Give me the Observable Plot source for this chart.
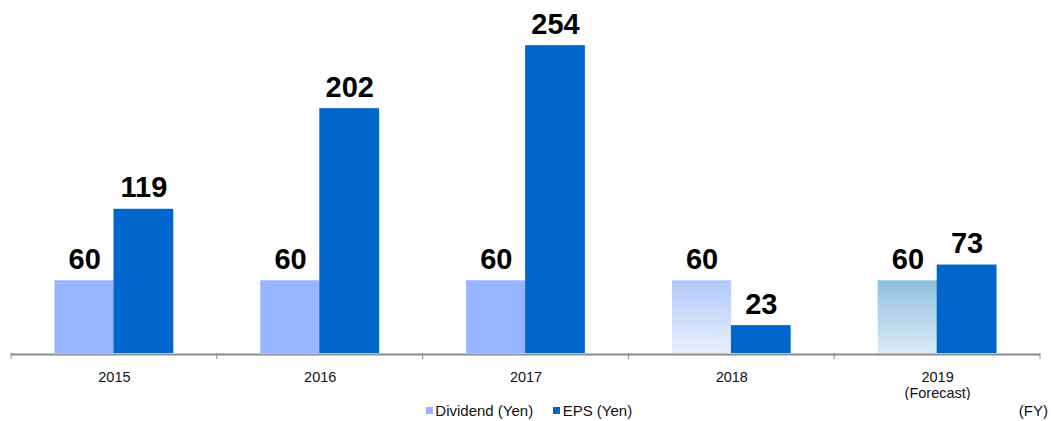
<!DOCTYPE html>
<html>
<head>
<meta charset="utf-8">
<script src="https://cdn.jsdelivr.net/npm/d3@7"></script>
<script src="https://cdn.jsdelivr.net/npm/@observablehq/plot@0.6"></script>
<style>
  body { margin: 0; background: #fff; font-family: "Liberation Sans", Arial, sans-serif; }
  #chart { position: relative; width: 1051px; }
  .legend { position: relative; height: 21px; display: flex; justify-content: center; align-items: center; font-size: 15px; color: #111; padding-left: 7px; }
  .item { display: flex; align-items: center; margin: 0 10px; }
  .sw { width: 7px; height: 7px; margin-right: 2.5px; }
  .fy { position: absolute; right: 3px; top: 2px; font-size: 15px; color: #111; }
</style>
</head>
<body>
<div id="chart"></div>
<script>
// ---- data ----
const years = ["2015", "2016", "2017", "2018", "2019"];
const yearLabels = ["2015", "2016", "2017", "2018", "2019\n(Forecast)"];
const dividend = [60, 60, 60, 60, 60];
const eps = [119, 202, 254, 23, 73];
const seriesNames = ["Dividend (Yen)", "EPS (Yen)"];

// ---- styles ----
const divColor = "#96B4FF";
const epsColor = "#0066CC";
const axisGray = "#8c8c8c";
const gradients = { "2018": ["#B2CAFA", "#E9F0FD"], "2019": ["#8EC0E1", "#DCEBF4"] };

const divRows = years.map((y, i) => ({ year: y, value: dividend[i] }));
const epsRows = years.map((y, i) => ({ year: y, value: eps[i] }));
const divFill = d => gradients[d.year] ? `url(#grad${d.year})` : divColor;

function decorations(index, scales) {
  const ns = "http://www.w3.org/2000/svg";
  const g = document.createElementNS(ns, "g");
  const defs = document.createElementNS(ns, "defs");
  for (const [k, [c0, c1]] of Object.entries(gradients)) {
    const lg = document.createElementNS(ns, "linearGradient");
    lg.setAttribute("id", "grad" + k);
    lg.setAttribute("x1", "0"); lg.setAttribute("y1", "0");
    lg.setAttribute("x2", "0"); lg.setAttribute("y2", "1");
    [[0, c0], [1, c1]].forEach(([o, c]) => {
      const s = document.createElementNS(ns, "stop");
      s.setAttribute("offset", o);
      s.setAttribute("stop-color", c);
      lg.appendChild(s);
    });
    defs.appendChild(lg);
  }
  g.appendChild(defs);
  const y0 = scales.y(0);
  const bw = scales.x.bandwidth();
  const edges = years.map(y => scales.x(y)).concat([scales.x(years[years.length - 1]) + bw]);
  for (const e of edges) {
    const l = document.createElementNS(ns, "line");
    l.setAttribute("x1", e); l.setAttribute("x2", e);
    l.setAttribute("y1", y0); l.setAttribute("y2", y0 + 6);
    l.setAttribute("stroke", axisGray);
    l.setAttribute("stroke-width", 1);
    g.appendChild(l);
  }
  return g;
}

const chart = Plot.plot({
  width: 1051,
  height: 400,
  marginTop: 10,
  marginBottom: 47,
  marginLeft: 11,
  marginRight: 11,
  style: { fontFamily: "'Liberation Sans', Arial, sans-serif", fontSize: "14.5px", background: "#fff" },
  x: { domain: years, padding: 0, round: false, label: null },
  y: { domain: [0, 283], axis: null },
  color: { type: "identity" },
  marks: [
    decorations,
    Plot.ruleY([0], { stroke: axisGray, strokeWidth: 2, dy: 1 }),
    Plot.barY(divRows, { x: "year", y: "value", fill: divFill, insetLeft: 43.5, insetRight: 103 }),
    Plot.barY(epsRows, { x: "year", y: "value", fill: epsColor, insetLeft: 102.5, insetRight: 43.5 }),
    Plot.text(divRows, { x: "year", y: "value", text: d => String(d.value), dx: -29.7, dy: -12, lineAnchor: "bottom", fontSize: 29, fontWeight: "bold", fill: "#000" }),
    Plot.text(epsRows, { x: "year", y: "value", text: d => String(d.value), dx: 29.5, dy: -12, lineAnchor: "bottom", fontSize: 29, fontWeight: "bold", fill: "#000" }),
    Plot.axisX({ tickSize: 0, tickPadding: 18, tickFormat: d => yearLabels[years.indexOf(d)], lineHeight: 1.05, fill: "#111", fontSize: 14.5 })
  ]
});

const root = document.getElementById("chart");
root.appendChild(chart);

const legend = document.createElement("div");
legend.className = "legend";
[[seriesNames[0], divColor], [seriesNames[1], epsColor]].forEach(([name, c]) => {
  const it = document.createElement("div");
  it.className = "item";
  const sw = document.createElement("span");
  sw.className = "sw";
  sw.style.background = c;
  const t = document.createElement("span");
  t.textContent = name;
  it.appendChild(sw); it.appendChild(t);
  legend.appendChild(it);
});
const fy = document.createElement("span");
fy.className = "fy";
fy.textContent = "(FY)";
legend.appendChild(fy);
root.appendChild(legend);
</script>
</body>
</html>
